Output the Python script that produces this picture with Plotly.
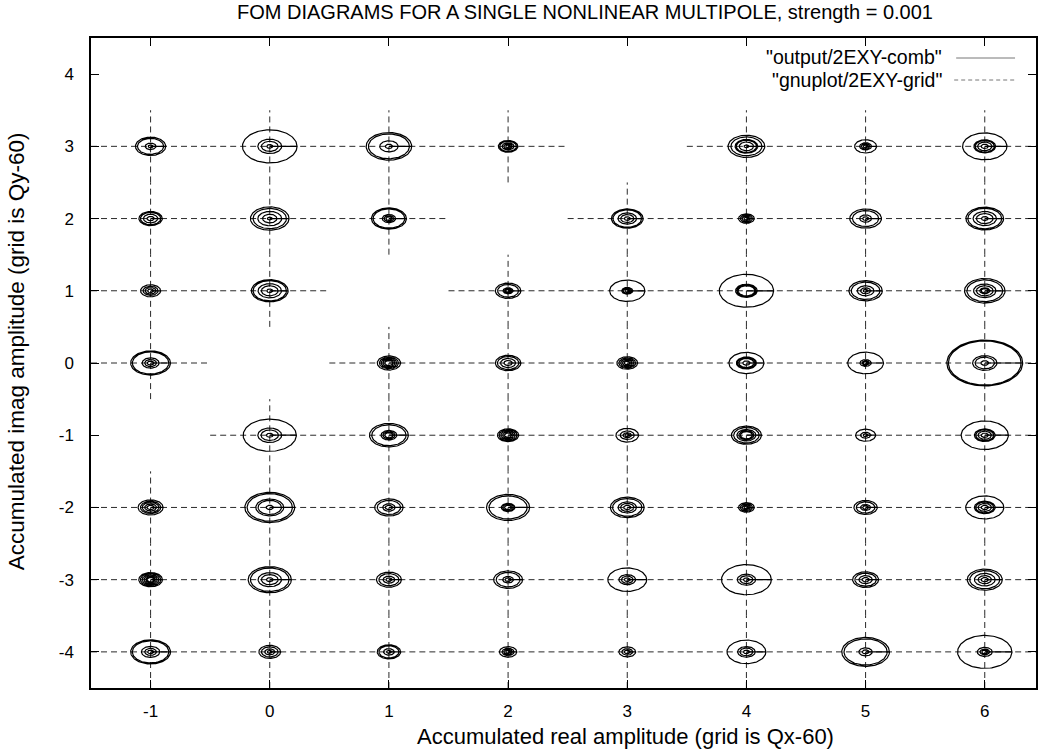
import numpy as np
import plotly.graph_objects as go

# ---- data ----
point_x = [-1, 0, 1, 2, 4, 5, 6,
           -1, 0, 1, 3, 4, 5, 6,
           -1, 0, 2, 3, 4, 5, 6,
           -1, 1, 2, 3, 4, 5, 6,
           0, 1, 2, 3, 4, 5, 6,
           -1, 0, 1, 2, 3, 4, 5, 6,
           -1, 0, 1, 2, 3, 4, 5, 6,
           -1, 0, 1, 2, 3, 4, 5, 6]
point_y = [3, 3, 3, 3, 3, 3, 3,
           2, 2, 2, 2, 2, 2, 2,
           1, 1, 1, 1, 1, 1, 1,
           0, 0, 0, 0, 0, 0, 0,
           -1, -1, -1, -1, -1, -1, -1,
           -2, -2, -2, -2, -2, -2, -2, -2,
           -3, -3, -3, -3, -3, -3, -3, -3,
           -4, -4, -4, -4, -4, -4, -4, -4]
# radii of the concentric FOM contours at each grid point (data units)
radii = [
    [0.02, 0.045, 0.11, 0.127],            # (-1, 3)
    [0.025, 0.07, 0.10, 0.229],            # (0, 3)
    [0.03, 0.077, 0.172, 0.191],           # (1, 3)
    [0.02, 0.035, 0.05, 0.07, 0.082],      # (2, 3)
    [0.02, 0.06, 0.085, 0.095, 0.13, 0.154],  # (4, 3)
    [0.02, 0.035, 0.05, 0.092],            # (5, 3)
    [0.03, 0.06, 0.08, 0.091, 0.186],      # (6, 3)
    [0.03, 0.06, 0.085, 0.098],            # (-1, 2)
    [0.02, 0.06, 0.10, 0.14, 0.162],       # (0, 2)
    [0.025, 0.04, 0.056, 0.133, 0.147],    # (1, 2)
    [0.025, 0.055, 0.078, 0.12, 0.133],    # (3, 2)
    [0.02, 0.035, 0.05, 0.066],            # (4, 2)
    [0.025, 0.05, 0.11, 0.133],            # (5, 2)
    [0.028, 0.07, 0.098, 0.142, 0.158],    # (6, 2)
    [0.025, 0.045, 0.063, 0.084],          # (-1, 1)
    [0.025, 0.07, 0.098, 0.14, 0.154],     # (0, 1)
    [0.02, 0.03, 0.042, 0.088, 0.107],     # (2, 1)
    [0.02, 0.035, 0.046, 0.148],           # (3, 1)
    [0.07, 0.08, 0.091, 0.228],            # (4, 1)
    [0.02, 0.042, 0.07, 0.12, 0.14],       # (5, 1)
    [0.03, 0.042, 0.07, 0.094, 0.15, 0.17],  # (6, 1)
    [0.028, 0.049, 0.071, 0.153, 0.167],   # (-1, 0)
    [0.035, 0.05, 0.065, 0.08, 0.098],     # (1, 0)
    [0.035, 0.063, 0.09, 0.107],           # (2, 0)
    [0.025, 0.04, 0.055, 0.07, 0.087],     # (3, 0)
    [0.03, 0.063, 0.075, 0.084, 0.147],    # (4, 0)
    [0.02, 0.03, 0.047, 0.15],             # (5, 0)
    [0.032, 0.081, 0.102, 0.305, 0.318],   # (6, 0)
    [0.028, 0.073, 0.10, 0.223],           # (0, -1)
    [0.035, 0.05, 0.066, 0.144, 0.163],    # (1, -1)
    [0.03, 0.045, 0.06, 0.075, 0.089],     # (2, -1)
    [0.02, 0.035, 0.059, 0.095],           # (3, -1)
    [0.05, 0.063, 0.08, 0.107, 0.126],     # (4, -1)
    [0.02, 0.042, 0.084],                  # (5, -1)
    [0.03, 0.056, 0.075, 0.087, 0.198],    # (6, -1)
    [0.03, 0.049, 0.07, 0.085, 0.105],     # (-1, -2)
    [0.03, 0.098, 0.117, 0.19, 0.209],     # (0, -2)
    [0.03, 0.052, 0.098, 0.119],           # (1, -2)
    [0.03, 0.045, 0.057, 0.16, 0.181],     # (2, -2)
    [0.03, 0.056, 0.077, 0.123, 0.142],    # (3, -2)
    [0.02, 0.035, 0.05, 0.066],            # (4, -2)
    [0.025, 0.042, 0.078, 0.098],          # (5, -2)
    [0.03, 0.056, 0.075, 0.087, 0.16],     # (6, -2)
    [0.03, 0.04, 0.055, 0.07, 0.085, 0.099],  # (-1, -3)
    [0.028, 0.07, 0.098, 0.162, 0.181],    # (0, -3)
    [0.025, 0.049, 0.084, 0.105],          # (1, -3)
    [0.025, 0.045, 0.10, 0.121],           # (2, -3)
    [0.025, 0.049, 0.07, 0.163],           # (3, -3)
    [0.025, 0.054, 0.077, 0.209],          # (4, -3)
    [0.03, 0.056, 0.09, 0.109],            # (5, -3)
    [0.03, 0.056, 0.087, 0.126, 0.147],    # (6, -3)
    [0.025, 0.049, 0.077, 0.153, 0.167],   # (-1, -4)
    [0.02, 0.042, 0.07, 0.091],            # (0, -4)
    [0.02, 0.045, 0.084, 0.098],           # (1, -4)
    [0.02, 0.035, 0.05, 0.073],            # (2, -4)
    [0.025, 0.045, 0.07],                  # (3, -4)
    [0.025, 0.054, 0.074, 0.163],          # (4, -4)
    [0.028, 0.056, 0.181, 0.20],           # (5, -4)
    [0.025, 0.04, 0.063, 0.228],           # (6, -4)
]
x_ticks = [-1, 0, 1, 2, 3, 4, 5, 6]
x_ticklabels = ["-1", "0", "1", "2", "3", "4", "5", "6"]
y_ticks = [-4, -3, -2, -1, 0, 1, 2, 3, 4]
y_ticklabels = ["-4", "-3", "-2", "-1", "0", "1", "2", "3", "4"]

title_text = "FOM DIAGRAMS FOR A SINGLE NONLINEAR MULTIPOLE, strength = 0.001"
x_title = "Accumulated real amplitude (grid is Qx-60)"
y_title = "Accumulated imag amplitude (grid is Qy-60)"
legend_labels = ['"output/2EXY-comb"', '"gnuplot/2EXY-grid"']

# ---- build paths ----
HALF = 0.5
gx, gy = [], []
for px, py in zip(point_x, point_y):
    gx += [px - HALF, px + HALF, None, px, px, None]
    gy += [py, py, None, py - HALF, py + HALF, None]

theta = np.linspace(0, 2 * np.pi, 121)
cx, cy = [], []
for px, py, rs in zip(point_x, point_y, radii):
    cx.append(px)
    cy.append(py)
    for r in rs:
        cx += list(px + r * np.cos(theta))
        cy += list(py + r * np.sin(theta))
    cx.append(None)
    cy.append(None)

fig = go.Figure()
fig.add_trace(go.Scatter(x=gx, y=gy, mode="lines", showlegend=False,
                         line=dict(color="#2a2a2a", width=1, dash="6px,4px"),
                         hoverinfo="skip", name=legend_labels[1]))
fig.add_trace(go.Scatter(x=cx, y=cy, mode="lines", showlegend=False,
                         line=dict(color="black", width=1.2),
                         hoverinfo="skip", name=legend_labels[0]))

FONT = "Liberation Sans, Arial, Helvetica, sans-serif"
W, H = 1039, 750
L, R, T, B = 91, 1, 38, 62
pw, ph = W - L - R, H - T - B


def px2x(p):
    return (p - L) / pw


def px2y(p):
    return 1 - (p - T) / ph


axis_common = dict(showgrid=False, zeroline=False, showline=True, linecolor="black",
                   linewidth=1.5, mirror="ticks", ticks="inside", ticklen=8,
                   tickwidth=1, tickcolor="black",
                   tickfont=dict(family=FONT, size=17, color="black"))

fig.update_layout(
    width=W, height=H,
    margin=dict(l=L, r=R, t=T, b=B),
    plot_bgcolor="white", paper_bgcolor="white",
    xaxis=dict(range=[-1.5, 6.43], tickvals=x_ticks, ticktext=x_ticklabels,
               ticklabelstandoff=7, **axis_common),
    yaxis=dict(range=[-4.5, 4.5], tickvals=y_ticks, ticktext=y_ticklabels,
               ticklabelstandoff=12, **axis_common),
    showlegend=False,
)

annots = [
    dict(text=title_text, x=px2x(586), y=px2y(12), xref="paper", yref="paper",
         showarrow=False, xanchor="center", yanchor="middle",
         font=dict(family=FONT, size=20, color="black")),
    dict(text=x_title, x=px2x(627), y=px2y(736), xref="paper", yref="paper",
         showarrow=False, xanchor="center", yanchor="middle",
         font=dict(family=FONT, size=22, color="black")),
    dict(text=y_title, x=px2x(17), y=px2y(351), xref="paper", yref="paper",
         showarrow=False, xanchor="center", yanchor="middle", textangle=-90,
         font=dict(family=FONT, size=22.5, color="black")),
    dict(text=legend_labels[0], x=px2x(946), y=px2y(57), xref="paper", yref="paper",
         showarrow=False, xanchor="right", yanchor="middle",
         font=dict(family=FONT, size=19.5, color="black")),
    dict(text=legend_labels[1], x=px2x(946), y=px2y(80), xref="paper", yref="paper",
         showarrow=False, xanchor="right", yanchor="middle",
         font=dict(family=FONT, size=19.5, color="black")),
]
fig.update_layout(annotations=annots)

fig.add_shape(type="line", xref="paper", yref="paper",
              x0=px2x(958), x1=px2x(1017), y0=px2y(58), y1=px2y(58),
              line=dict(color="#777777", width=1))
fig.add_shape(type="line", xref="paper", yref="paper",
              x0=px2x(956), x1=px2x(1017), y0=px2y(80), y1=px2y(80),
              line=dict(color="#777777", width=1, dash="4px,3px"))

fig.write_html("out.html",
               config={"displayModeBar": False},
               post_script="document.body.style.margin='0px';"
                           "document.body.style.overflow='hidden';")
